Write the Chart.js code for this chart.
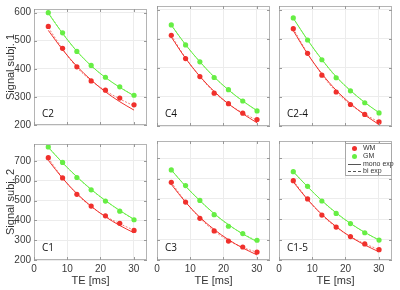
<!DOCTYPE html>
<html>
<head>
<meta charset="utf-8">
<script src="https://cdn.jsdelivr.net/npm/chart.js"></script>
<style>
body { margin: 0; background: #fff; }
#wrap { position: relative; width: 400px; height: 290px; overflow: hidden; }
#wrap canvas { position: absolute; }
.lbl { position: absolute; font: 10px 'Open Sans', sans-serif; color: #111; line-height: 12px; }
#legend { position: absolute; left: 345px; top: 143px; width: 45px; height: 31px; border: 1px solid #a8a8a8; background: #fff;
  font: 7px 'Liberation Sans', Arial, sans-serif; color: #333; }
#legend .row { position: absolute; left: 0; height: 8px; line-height: 8px; }
#legend .dot { position: absolute; left: 6px; top: 1.5px; width: 5px; height: 5px; border-radius: 50%; }
#legend .ln { position: absolute; left: 2px; top: 4px; width: 13px; height: 0; }
#legend .txt { position: absolute; left: 17px; top: 0; white-space: nowrap; }
</style>
</head>
<body>
<div id="wrap">
  <canvas id="c0"></canvas><canvas id="c1"></canvas><canvas id="c2"></canvas>
  <canvas id="c3"></canvas><canvas id="c4"></canvas><canvas id="c5"></canvas>
  <div id="legend">
    <div class="row" style="top:0px"><span class="dot" style="background:#f0302c"></span><span class="txt">WM</span></div>
    <div class="row" style="top:8px"><span class="dot" style="background:#66ee44"></span><span class="txt">GM</span></div>
    <div class="row" style="top:15.5px"><span class="ln" style="border-top:1px solid #555"></span><span class="txt">mono exp</span></div>
    <div class="row" style="top:23px"><span class="ln" style="border-top:1px dashed #555"></span><span class="txt">bi exp</span></div>
  </div>
</div>
<script>
// echo times [ms]
var te = [4.3, 8.6, 12.9, 17.2, 21.5, 25.8, 30.1];
var panelNames = ['C2', 'C4', 'C2-4', 'C1', 'C3', 'C1-5'];
var rowTitles = ['Signal subj. 1', 'Signal subj. 2'];
var yMax = [613, 785];
var yMin = 200;

// subject 1
var wmC2 = [551, 473, 407, 357, 324, 296, 272];
var gmC2 = [600, 528, 462, 412, 370, 336, 306];
var wmMonoC2 = [537, 468, 409, 360, 318, 283, 253];
var wmBiC2 = [547, 471, 405, 358, 322, 293, 268];
var gmMonoC2 = [598, 526, 463, 411, 369, 334, 304];
var gmBiC2 = [600, 527, 462, 411, 369, 335, 305];

var wmC4 = [512, 432, 370, 313, 277, 244, 222];
var gmC4 = [548, 479, 421, 367, 325, 286, 252];
var wmMonoC4 = [506, 433, 371, 319, 276, 242, 211];
var wmBiC4 = [512, 434, 370, 316, 276, 245, 220];
var gmMonoC4 = [547, 480, 421, 369, 324, 286, 253];
var gmBiC4 = [548, 479, 421, 368, 325, 286, 252];

var wmC24 = [535, 450, 375, 317, 274, 240, 214];
var gmC24 = [572, 496, 428, 366, 321, 280, 245];
var wmMonoC24 = [528, 448, 380, 323, 277, 238, 205];
var wmBiC24 = [535, 450, 377, 318, 274, 241, 213];
var gmMonoC24 = [571, 496, 429, 370, 322, 281, 246];
var gmBiC24 = [572, 496, 428, 368, 322, 281, 245];

// subject 2
var wmC1 = [716, 614, 531, 472, 423, 385, 349];
var gmC1 = [770, 692, 616, 554, 497, 446, 403];
var wmMonoC1 = [703, 612, 535, 471, 418, 374, 337];
var wmBiC1 = [714, 614, 532, 469, 421, 383, 350];
var gmMonoC1 = [768, 690, 620, 556, 500, 450, 405];
var gmBiC1 = [770, 691, 618, 555, 498, 448, 404];

var wmC3 = [582, 485, 405, 343, 293, 264, 239];
var gmC3 = [643, 566, 493, 423, 366, 330, 297];
var wmMonoC3 = [572, 484, 410, 350, 300, 259, 225];
var wmBiC3 = [582, 486, 406, 343, 296, 262, 238];
var gmMonoC3 = [643, 562, 492, 428, 374, 328, 290];
var gmBiC3 = [643, 564, 492, 427, 372, 329, 294];

var wmC15 = [590, 500, 421, 362, 315, 279, 251];
var gmC15 = [634, 562, 490, 429, 379, 334, 298];
var wmMonoC15 = [584, 497, 424, 364, 314, 274, 240];
var wmBiC15 = [590, 499, 421, 361, 315, 280, 251];
var gmMonoC15 = [634, 560, 492, 432, 380, 336, 298];
var gmBiC15 = [634, 561, 491, 430, 379, 335, 298];

var RED = '#f0302c', GREEN = '#66ee44';
var colLeft = [34, 157, 279], plotW = 115;
var rowTop = [6, 141], plotH = [120, 119];

function pts(arr) {
  return te.map(function (t, i) { return { x: t, y: arr[i] }; });
}

// frame + inward tick marks, matlab style
var boxPlugin = {
  id: 'box',
  afterDraw: function (chart) {
    var a = chart.chartArea, c = chart.ctx;
    c.save();
    c.strokeStyle = '#b4b4b4';
    c.lineWidth = 1;
    c.strokeRect(a.left + 0.5, a.top + 0.5, a.right - a.left - 1, a.bottom - a.top - 1);
    c.strokeStyle = '#999';
    c.beginPath();
    chart.scales.x.ticks.forEach(function (t) {
      var px = Math.round(chart.scales.x.getPixelForValue(t.value)) + 0.5;
      c.moveTo(px, a.bottom); c.lineTo(px, a.bottom - 3);
      c.moveTo(px, a.top); c.lineTo(px, a.top + 3);
    });
    chart.scales.y.ticks.forEach(function (t) {
      var py = Math.round(chart.scales.y.getPixelForValue(t.value)) + 0.5;
      c.moveTo(a.left, py); c.lineTo(a.left + 3, py);
      c.moveTo(a.right, py); c.lineTo(a.right - 3, py);
    });
    c.stroke();
    c.restore();
  }
};

function makePanel(idx, wm, gm, wmMono, wmBi, gmMono, gmBi) {
  var col = idx % 3, row = Math.floor(idx / 3);
  var yw = col === 0 ? 34 : 6;
  var xh = row === 1 ? 30 : 8;
  var cv = document.getElementById('c' + idx);
  cv.width = yw + plotW + 2;
  cv.height = 6 + plotH[row] + xh;
  cv.style.left = (colLeft[col] - yw) + 'px';
  cv.style.top = (rowTop[row] - 6) + 'px';

  var lbl = document.createElement('div');
  lbl.className = 'lbl';
  lbl.textContent = panelNames[idx];
  lbl.style.left = (colLeft[col] + 8) + 'px';
  lbl.style.top = (rowTop[row] + plotH[row] - 19) + 'px';
  document.getElementById('wrap').appendChild(lbl);

  new Chart(cv, {
    type: 'scatter',
    data: {
      datasets: [
        { data: pts(wm), backgroundColor: RED, borderColor: RED, pointRadius: 2.6, borderWidth: 0, showLine: false },
        { data: pts(gm), backgroundColor: GREEN, borderColor: GREEN, pointRadius: 2.6, borderWidth: 0, showLine: false },
        { data: pts(wmMono), borderColor: RED, borderWidth: 1, pointRadius: 0, showLine: true, cubicInterpolationMode: 'monotone' },
        { data: pts(wmBi), borderColor: '#f37a74', borderWidth: 1, borderDash: [2, 1.5], pointRadius: 0, showLine: true, cubicInterpolationMode: 'monotone' },
        { data: pts(gmMono), borderColor: GREEN, borderWidth: 1, pointRadius: 0, showLine: true, cubicInterpolationMode: 'monotone' },
        { data: pts(gmBi), borderColor: '#8ef070', borderWidth: 1, borderDash: [2, 1.5], pointRadius: 0, showLine: true, cubicInterpolationMode: 'monotone' }
      ]
    },
    options: {
      responsive: false,
      animation: false,
      devicePixelRatio: 1,
      layout: { padding: { top: 6, right: 2, left: 0, bottom: 0 } },
      plugins: { legend: { display: false }, tooltip: { enabled: false } },
      scales: {
        x: {
          type: 'linear', min: 0, max: 34,
          ticks: { display: row === 1, stepSize: 10, includeBounds: false, padding: 3, color: '#3a3a3a',
                   font: { family: "'Liberation Sans', Arial, sans-serif", size: 10 } },
          grid: { color: '#ececec', drawTicks: false },
          border: { display: false },
          title: { display: row === 1, text: 'TE [ms]', color: '#333', padding: { top: 0, bottom: 2 },
                   font: { family: "'Liberation Sans', Arial, sans-serif", size: 11 } },
          afterFit: function (s) { s.height = xh; }
        },
        y: {
          min: yMin, max: yMax[row],
          ticks: { display: col === 0, stepSize: 100, includeBounds: false, padding: 3, color: '#3a3a3a',
                   font: { family: "'Liberation Sans', Arial, sans-serif", size: 10 } },
          grid: { color: '#ececec', drawTicks: false },
          border: { display: false },
          title: { display: col === 0, text: rowTitles[row], color: '#333', padding: 4,
                   font: { family: "'Liberation Sans', Arial, sans-serif", size: 11 } },
          afterFit: function (s) { s.width = yw; }
        }
      }
    },
    plugins: [boxPlugin]
  });
}

makePanel(0, wmC2, gmC2, wmMonoC2, wmBiC2, gmMonoC2, gmBiC2);
makePanel(1, wmC4, gmC4, wmMonoC4, wmBiC4, gmMonoC4, gmBiC4);
makePanel(2, wmC24, gmC24, wmMonoC24, wmBiC24, gmMonoC24, gmBiC24);
makePanel(3, wmC1, gmC1, wmMonoC1, wmBiC1, gmMonoC1, gmBiC1);
makePanel(4, wmC3, gmC3, wmMonoC3, wmBiC3, gmMonoC3, gmBiC3);
makePanel(5, wmC15, gmC15, wmMonoC15, wmBiC15, gmMonoC15, gmBiC15);
</script>
</body>
</html>
